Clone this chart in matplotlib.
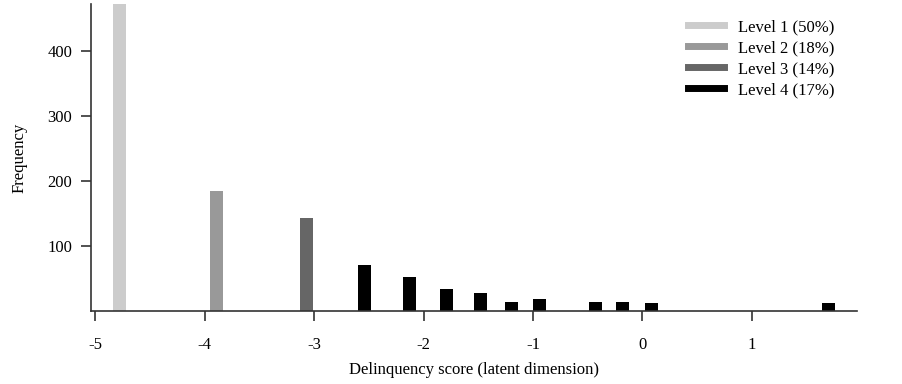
import matplotlib
matplotlib.use("Agg")
import matplotlib.pyplot as plt

# latent class positions and frequencies
level_labels = ["Level 1 (50%)", "Level 2 (18%)", "Level 3 (14%)", "Level 4 (17%)"]
level_colors = ["#cccccc", "#999999", "#666666", "#000000"]

lvl1_x = [-4.78]
lvl1_y = [472]
lvl2_x = [-3.89]
lvl2_y = [184]
lvl3_x = [-3.07]
lvl3_y = [143]
lvl4_x = [-2.54, -2.13, -1.79, -1.48, -1.20, -0.94, -0.43, -0.18, 0.085, 1.70]
lvl4_y = [71, 52, 34, 27, 14, 18, 14, 14, 12, 12]

xticks = [-5, -4, -3, -2, -1, 0, 1]
yticks = [100, 200, 300, 400]

plt.rcParams["font.family"] = ["Liberation Serif", "DejaVu Serif"]
plt.rcParams["font.size"] = 12

fig = plt.figure(figsize=(9.03, 3.84), dpi=100)
ax = fig.add_axes([0.1008, 0.190, 0.8482, 0.7996])

w = 0.12
groups = [(lvl1_x, lvl1_y), (lvl2_x, lvl2_y), (lvl3_x, lvl3_y), (lvl4_x, lvl4_y)]
for (xs, ys), c in zip(groups, level_colors):
    ax.bar(xs, ys, width=w, color=c, edgecolor="none")

# legend handles as thick lines
for lab, c in zip(level_labels, level_colors):
    ax.plot([], [], color=c, lw=5, label=lab)
ax.legend(loc="upper right", frameon=False, handlelength=2.2, handletextpad=0.8,
          labelspacing=0.3, fontsize=12, bbox_to_anchor=(0.99, 1.0))

ax.set_xlim(-5.04, 1.96)
ax.set_ylim(0, 472)
ax.set_xticks(xticks)
ax.set_xticklabels([str(t) for t in xticks])
ax.set_yticks(yticks)

for s in ["top", "right"]:
    ax.spines[s].set_visible(False)
for s in ["left", "bottom"]:
    ax.spines[s].set_color("#333333")
    ax.spines[s].set_linewidth(1.2)
ax.tick_params(axis="both", length=7.5, width=1.2, color="#333333", labelsize=12)
ax.tick_params(axis="x", pad=11)
ax.tick_params(axis="y", pad=6)

ax.set_xlabel("Delinquency score (latent dimension)", fontsize=12, labelpad=7)
ax.set_ylabel("Frequency", fontsize=12, labelpad=14)

fig.savefig("out.png", dpi=100)
